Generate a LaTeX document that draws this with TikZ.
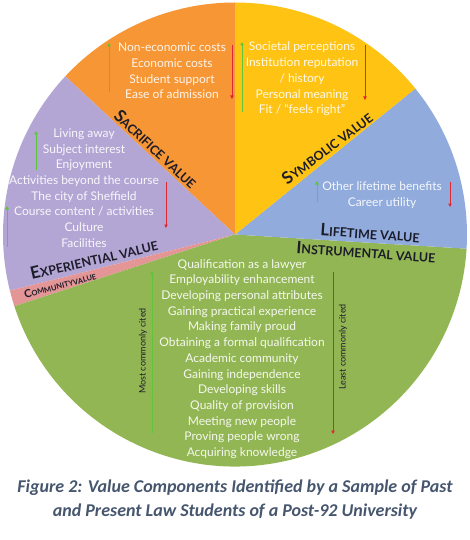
\documentclass[tikz,border=0pt]{standalone}
\usepackage{fontspec}
\setmainfont{Lato}
\newfontfamily\captionfont{Carlito}
\usetikzlibrary{arrows.meta}
\definecolor{sacrifice}{RGB}{247,150,52}
\definecolor{symbolic}{RGB}{255,195,20}
\definecolor{lifetime}{RGB}{145,172,220}
\definecolor{instrumental}{RGB}{147,182,84}
\definecolor{experiential}{RGB}{180,166,212}
\definecolor{community}{RGB}{228,150,150}
\definecolor{upgreen}{RGB}{96,196,58}
\definecolor{downred}{RGB}{222,40,50}
\definecolor{captiontext}{RGB}{70,86,110}
\definecolor{heading}{RGB}{28,28,42}
\newcommand{\valtitle}[2]{{\fontsize{17}{17}\selectfont #1}{\fontsize{12.5}{12.5}\selectfont #2}}
\tikzset{
  valuelist/.style={text=white,text opacity=0.9,align=center,inner sep=0pt,
    font=\fontsize{12}{15.7}\selectfont},
  valuetitle/.style={text=heading,inner sep=0pt,font=\bfseries},
  citelabel/.style={text=heading,inner sep=0pt,rotate=90,font=\fontsize{9}{9}\selectfont},
  upcite/.style={upgreen,line width=0.8pt,-{Triangle[length=3.5pt,width=3.5pt]}},
  downcite/.style={downred,line width=0.8pt,-{Triangle[length=3.5pt,width=3.5pt]}}
}
\begin{document}
\begin{tikzpicture}
    [x=1pt,y=-1pt]
    \fill[white] (0,0) rectangle (470,540);
    \useasboundingbox (0,0) rectangle (470,540);
    %wedges
    \begin{scope}[shift={(235,234.5)},yscale=-1]
    \fill[sacrifice] (0,0)--(90:232) arc[start angle=90,end angle=137,radius=232]--cycle;
    \fill[experiential] (0,0)--(137:232) arc[start angle=137,end angle=194,radius=232]--cycle;
    \fill[community] (0,0)--(194:232) arc[start angle=194,end angle=198,radius=232]--cycle;
    \fill[instrumental] (0,0)--(198:232) arc[start angle=198,end angle=356.5,radius=232]--cycle;
    \fill[lifetime] (0,0)--(-3.5:232) arc[start angle=-3.5,end angle=39,radius=232]--cycle;
    \fill[symbolic] (0,0)--(39:232) arc[start angle=39,end angle=90,radius=232]--cycle;
    \end{scope}
    %component lists
    \node[valuelist] (sacrificelist) at (172,71) {Non-economic costs\\Economic costs\\Student support\\Ease of admission};
    \node[valuelist] (symboliclist) at (302,79) {Societal perceptions\\Institution reputation\\/ history\\Personal meaning\\Fit / “feels right”};
    \node[valuelist] (experientiallist) at (84,188) {Living away\\Subject interest\\Enjoyment\\Activities beyond the course\\The city of Sheffield\\Course content / activities\\Culture\\Facilities};
    \node[valuelist] (lifetimelist) at (382,195) {Other lifetime benefits\\Career utility};
    \node[valuelist] (instrumentallist) at (242,359) {Qualification as a lawyer\\Employability enhancement\\Developing personal attributes\\Gaining practical experience\\Making family proud\\Obtaining a formal qualification\\Academic community\\Gaining independence\\Developing skills\\Quality of provision\\Meeting new people\\Proving people wrong\\Acquiring knowledge};
    %value titles
    \node[valuetitle,rotate=-43] (sacrificetitle) at (156,149) {\valtitle{S}{ACRIFICE VALUE}};
    \node[valuetitle,rotate=37] (symbolictitle) at (327,148) {\valtitle{S}{YMBOLIC VALUE}};
    \node[valuetitle,rotate=-4] (lifetimetitle) at (370,233) {\valtitle{L}{IFETIME VALUE}};
    \node[valuetitle,rotate=-4] (instrumentaltitle) at (366,252) {\valtitle{I}{NSTRUMENTAL VALUE}};
    \node[valuetitle,rotate=13] (experientialtitle) at (94,259) {\valtitle{E}{XPERIENTIAL VALUE}};
    \node[valuetitle,rotate=15] (communitytitle) at (60,285) {{\fontsize{11}{11}\selectfont C}{\fontsize{7.5}{7.5}\selectfont OMMUNITYVALUE}};
    %most and least cited
    \draw[upcite](109,92)--(109,43);
    \draw[downcite](232,45)--(232,99);
    \draw[upcite](242,112)--(242,42);
    \draw[downcite](365,45)--(365,100);
    \draw[upcite](36,170)--(36,131);
    \draw[upcite](7,247)--(7,206);
    \draw[downcite](166,182)--(166,228);
    \draw[upcite](317,202)--(317,181);
    \draw[downcite](450,182)--(450,207);
    \draw[upcite](152,433)--(152,271);
    \draw[downcite](333,272)--(333,434);
    \node[citelabel] (mostcited) at (143,351) {Most commonly cited};
    \node[citelabel] (leastcited) at (343,347) {Least commonly cited};
    %caption
    \node[text=captiontext,align=center,font=\captionfont\bfseries\itshape\fontsize{18}{24}\selectfont] (figcaption) at (235,500) {Figure 2: Value Components Identified by a Sample of Past\\and Present Law Students of a Post-92 University};
\end{tikzpicture}
\end{document}
